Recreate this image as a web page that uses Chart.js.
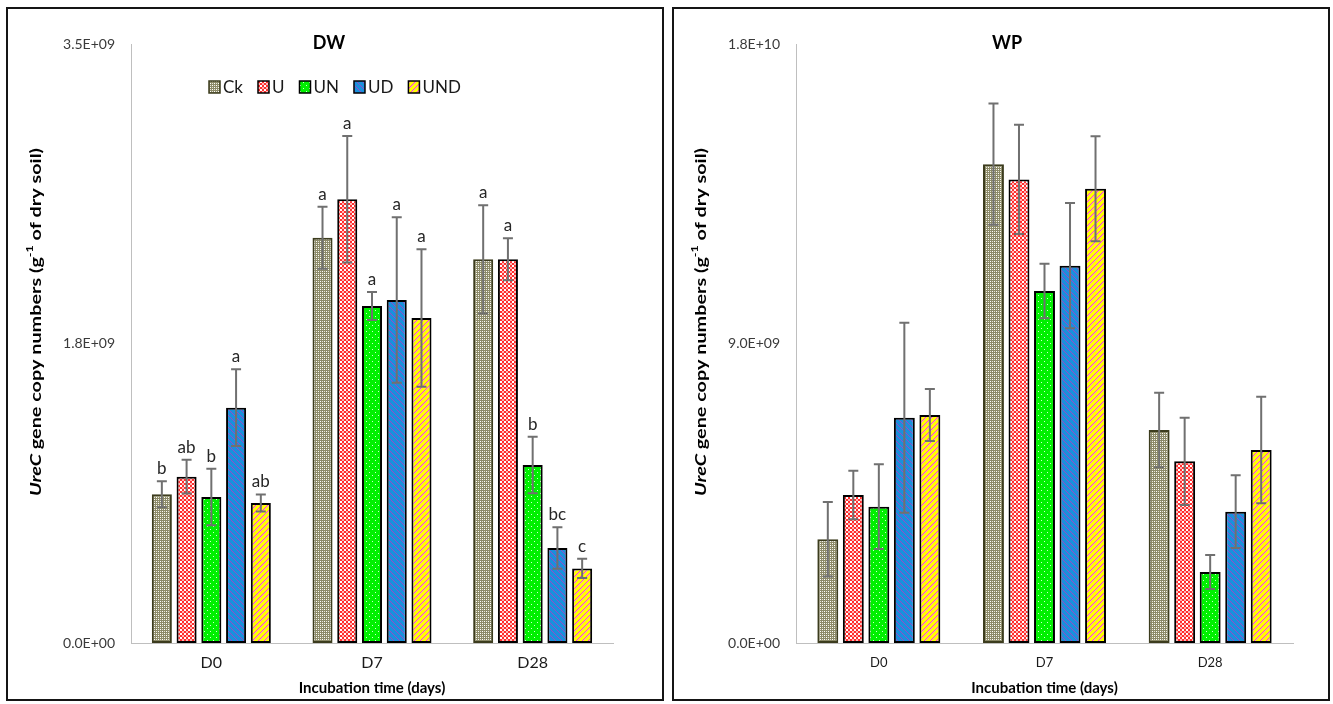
<!DOCTYPE html>
<html>
<head>
<meta charset="utf-8">
<script src="https://cdn.jsdelivr.net/npm/chart.js@4.4.1/dist/chart.umd.min.js"></script>
<style>
  body { margin: 0; background: #fff; width: 1333px; height: 704px; position: relative; overflow: hidden; }
  .panel { position: absolute; top: 7px; width: 658px; height: 694px; box-sizing: border-box; border: 2px solid #151515; background: #fff; }
  canvas { display: block; }
</style>
</head>
<body>
<div class="panel" style="left:6px"><canvas id="dw" width="654" height="690"></canvas></div>
<div class="panel" style="left:672px"><canvas id="wp" width="654" height="690"></canvas></div>
<script>
const days = ['D0', 'D7', 'D28'];
const treatments = ['Ck', 'U', 'UN', 'UD', 'UND'];

// DW: ureC copies per g dry soil (mean, error), one array per treatment over D0, D7, D28
const dwCk = [0.869e9, 2.368e9, 2.242e9];
const dwU = [0.972e9, 2.593e9, 2.242e9];
const dwUN = [0.853e9, 1.969e9, 1.040e9];
const dwUD = [1.375e9, 2.004e9, 0.555e9];
const dwUND = [0.818e9, 1.899e9, 0.436e9];
const dwCkErr = [0.076e9, 0.181e9, 0.316e9];
const dwUErr = [0.099e9, 0.370e9, 0.123e9];
const dwUNErr = [0.165e9, 0.082e9, 0.165e9];
const dwUDErr = [0.224e9, 0.483e9, 0.121e9];
const dwUNDErr = [0.050e9, 0.401e9, 0.056e9];
// significance letters
const dwCkSig = ['b', 'a', 'a'];
const dwUSig = ['ab', 'a', 'a'];
const dwUNSig = ['b', 'a', 'b'];
const dwUDSig = ['a', 'a', 'bc'];
const dwUNDSig = ['ab', 'a', 'c'];

// WP
const wpCk = [3.116e9, 14.39e9, 6.401e9];
const wpU = [4.447e9, 13.93e9, 5.460e9];
const wpUN = [4.096e9, 10.58e9, 2.134e9];
const wpUD = [6.770e9, 11.34e9, 3.946e9];
const wpUND = [6.851e9, 13.65e9, 5.800e9];
const wpCkErr = [1.121e9, 1.824e9, 1.121e9];
const wpUErr = [0.730e9, 1.641e9, 1.310e9];
const wpUNErr = [1.274e9, 0.820e9, 0.510e9];
const wpUDErr = [2.855e9, 1.884e9, 1.094e9];
const wpUNDErr = [0.781e9, 1.575e9, 1.602e9];

const dwMax = 3.5e9, dwStep = 1.75e9;
const wpMax = 1.8e10, wpStep = 9e9;

const FONT = 'Lato, "Open Sans", sans-serif';

// small tiled fills for the bars
function tile(size, bg, draw) {
  const c = document.createElement('canvas');
  c.width = size; c.height = size;
  const g = c.getContext('2d');
  g.fillStyle = bg;
  g.fillRect(0, 0, size, size);
  draw(g);
  return document.createElement('canvas').getContext('2d').createPattern(c, 'repeat');
}
const fills = {
  Ck: tile(4, '#8c8a68', g => {
    g.fillStyle = '#ffffff';
    g.fillRect(0, 0, 1, 1); g.fillRect(2, 2, 1, 1);
    g.fillStyle = '#e6e4d6';
    g.fillRect(2, 0, 1, 1); g.fillRect(0, 2, 1, 1);
  }),
  U: tile(4, '#ff2e2e', g => {
    g.fillStyle = '#ffffff';
    g.fillRect(0, 0, 2, 2);
    g.fillStyle = '#ffb4b4';
    g.fillRect(2, 2, 2, 2);
  }),
  UN: tile(6, '#00f000', g => {
    g.fillStyle = '#d0ffd0';
    g.fillRect(1, 1, 1, 1); g.fillRect(4, 4, 1, 1);
  }),
  UD: tile(6, '#1a90dc', g => {
    g.fillStyle = '#9a48c8';
    for (let i = 0; i < 6; i++) g.fillRect(i, i, 1, 1);
  }),
  UND: tile(6, '#ffff00', g => {
    g.fillStyle = '#ff48c8';
    for (let i = 0; i < 6; i++) g.fillRect(i, 5 - i, 1, 1);
    g.fillStyle = '#ffb0a0';
    for (let i = 0; i < 6; i++) g.fillRect((i + 1) % 6, 5 - i, 1, 1);
  })
};
const edges = { Ck: '#3c3c1e', U: '#000000', UN: '#000000', UD: '#000000', UND: '#000000' };

function sci(v) {
  const [m, e] = v.toExponential(1).split('e');
  const n = parseInt(e, 10);
  return m + 'E' + (n < 0 ? '-' : '+') + String(Math.abs(n)).padStart(2, '0');
}

// error bars and letters on top of every bar
const errorBars = {
  id: 'errorBars',
  afterDatasetsDraw(chart) {
    const ctx = chart.ctx;
    const y = chart.scales.y;
    ctx.save();
    chart.data.datasets.forEach((ds, i) => {
      const meta = chart.getDatasetMeta(i);
      meta.data.forEach((bar, j) => {
        const v = ds.data[j], e = ds.errors[j];
        const top = y.getPixelForValue(v + e);
        const bot = y.getPixelForValue(v - e);
        ctx.strokeStyle = '#707070';
        ctx.lineWidth = 2;
        ctx.beginPath();
        ctx.moveTo(bar.x, top); ctx.lineTo(bar.x, bot);
        ctx.moveTo(bar.x - 5, top); ctx.lineTo(bar.x + 5, top);
        ctx.moveTo(bar.x - 5, bot); ctx.lineTo(bar.x + 5, bot);
        ctx.stroke();
        if (ds.letters) {
          ctx.fillStyle = '#262626';
          ctx.font = '17px ' + FONT;
          ctx.textAlign = 'center';
          ctx.textBaseline = 'alphabetic';
          ctx.fillText(ds.letters[j], bar.x, top - 7);
        }
      });
    });
    ctx.restore();
  }
};

// panel title, rotated y title with italic gene name, and the swatch legend
const decorations = {
  id: 'decorations',
  afterDraw(chart, args, opts) {
    const ctx = chart.ctx;
    ctx.save();
    ctx.fillStyle = '#000';
    ctx.font = 'bold 18px ' + FONT;
    ctx.textAlign = 'center';
    ctx.textBaseline = 'middle';
    ctx.fillText(opts.title, opts.titleX, 34);

    const parts = [
      { t: 'UreC', f: 'italic bold 16px ' + FONT, dy: 0 },
      { t: ' gene copy numbers (g', f: 'bold 16px ' + FONT, dy: 0 },
      { t: '-1', f: 'bold 10px ' + FONT, dy: -6 },
      { t: ' of dry soil)', f: 'bold 16px ' + FONT, dy: 0 }
    ];
    let total = 0;
    parts.forEach(p => { ctx.font = p.f; p.w = ctx.measureText(p.t).width; total += p.w; });
    // stretch along the baseline to the axis title length
    const sx = 348 / total;
    ctx.translate(opts.yTitleX, 313);
    ctx.rotate(-Math.PI / 2);
    ctx.scale(sx, 1);
    ctx.textAlign = 'left';
    ctx.textBaseline = 'middle';
    let x = -total / 2;
    parts.forEach(p => { ctx.font = p.f; ctx.fillText(p.t, x, p.dy); x += p.w; });
    ctx.setTransform(1, 0, 0, 1, 0, 0);

    if (opts.legend) {
      let lx = opts.legendX;
      const ly = 78;
      ctx.font = '17px ' + FONT;
      ctx.textBaseline = 'middle';
      chart.data.datasets.forEach(ds => {
        ctx.fillStyle = ds.backgroundColor;
        ctx.fillRect(lx, ly - 6, 11, 12);
        ctx.strokeStyle = ds.borderColor;
        ctx.lineWidth = 1.5;
        ctx.strokeRect(lx, ly - 6, 11, 12);
        ctx.fillStyle = '#1a1a1a';
        ctx.fillText(ds.label, lx + 14, ly + 1);
        lx += 14 + ctx.measureText(ds.label).width + 15;
      });
    }
    ctx.restore();
  }
};

function buildChart(id, series, errs, letters, max, step, o) {
  const datasets = treatments.map((t, i) => ({
    label: t,
    data: series[i],
    errors: errs[i],
    letters: letters ? letters[i] : null,
    backgroundColor: fills[t],
    borderColor: edges[t],
    borderWidth: 2,
    borderSkipped: false,
    categoryPercentage: o.cat,
    barPercentage: o.bar
  }));
  return new Chart(document.getElementById(id), {
    type: 'bar',
    data: { labels: days, datasets },
    plugins: [errorBars, decorations],
    options: {
      responsive: false,
      animation: false,
      layout: { padding: { top: 35, right: o.right, bottom: 0, left: 0 } },
      plugins: {
        legend: { display: false },
        tooltip: { enabled: false },
        decorations: { title: o.title, titleX: o.titleX, yTitleX: o.yTitleX, legend: o.legend, legendX: o.legendX }
      },
      scales: {
        x: {
          grid: { display: false, drawTicks: false },
          border: { display: true, color: '#bfbfbf', width: 1 },
          ticks: { color: '#1a1a1a', font: { family: FONT, size: o.xSize }, padding: o.xPad },
          title: { display: true, text: 'Incubation time (days)', color: '#000', font: { family: FONT, size: 15, weight: 'bold' }, padding: { top: 0, bottom: 2 } },
          afterFit: s => { s.height = 56; }
        },
        y: {
          min: 0, max: max,
          grid: { display: false, drawTicks: false },
          border: { display: true, color: '#bfbfbf', width: 1 },
          ticks: { stepSize: step, color: '#3a3a3a', font: { family: FONT, size: 14 }, padding: 16, callback: v => sci(v) },
          afterFit: s => { s.width = o.yWidth; }
        }
      }
    }
  });
}

buildChart('dw',
  [dwCk, dwU, dwUN, dwUD, dwUND],
  [dwCkErr, dwUErr, dwUNErr, dwUDErr, dwUNDErr],
  [dwCkSig, dwUSig, dwUNSig, dwUDSig, dwUNDSig],
  dwMax, dwStep,
  { yWidth: 123, right: 49, cat: 0.77, bar: 0.81, title: 'DW', titleX: 321, yTitleX: 28, legend: true, legendX: 201, xSize: 16, xPad: 10 });

buildChart('wp',
  [wpCk, wpU, wpUN, wpUD, wpUND],
  [wpCkErr, wpUErr, wpUNErr, wpUDErr, wpUNDErr],
  null,
  wpMax, wpStep,
  { yWidth: 122, right: 35, cat: 0.77, bar: 0.82, title: 'WP', titleX: 333, yTitleX: 27, legend: false, xSize: 13, xPad: 12 });
</script>
</body>
</html>
